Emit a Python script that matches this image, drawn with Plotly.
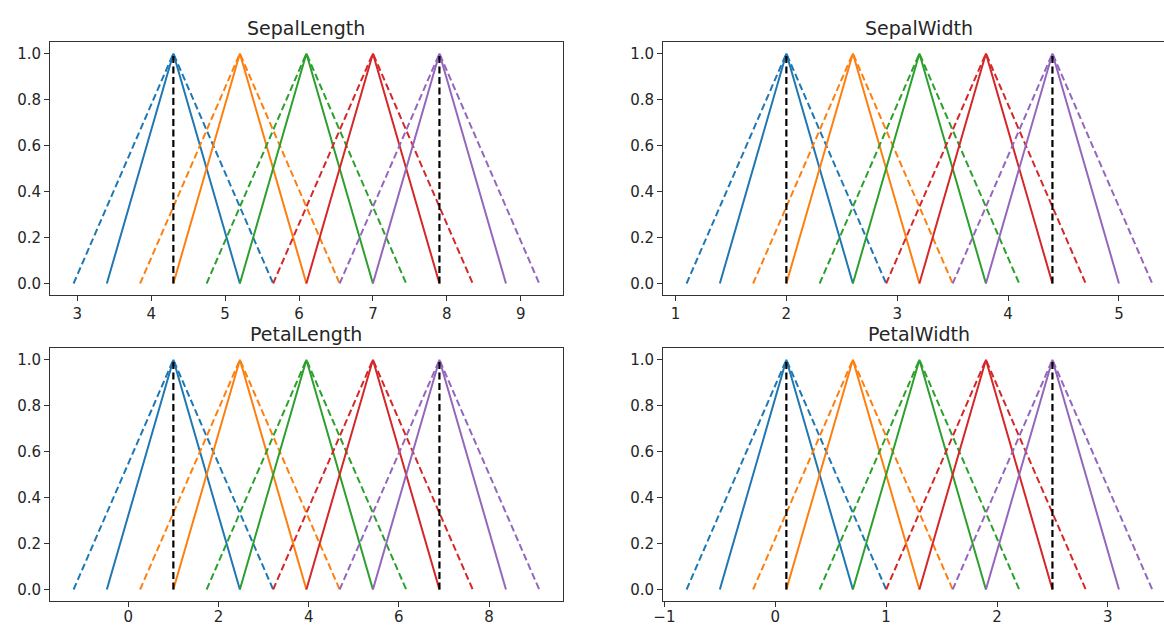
import plotly.graph_objects as go

# ---------------- data ----------------
features = ["SepalLength", "SepalWidth", "PetalLength", "PetalWidth"]

# attribute min / max (black dashed vertical lines)
feature_min = [4.3, 2.0, 1.0, 0.1]
feature_max = [7.9, 4.4, 6.9, 2.5]

# peaks of the five triangular membership functions
sl_center = [4.3, 5.2, 6.1, 7.0, 7.9]
sw_center = [2.0, 2.6, 3.2, 3.8, 4.4]
pl_center = [1.0, 2.475, 3.95, 5.425, 6.9]
pw_center = [0.1, 0.7, 1.3, 1.9, 2.5]

# feet of the solid (narrow) triangles
sl_solid_lo = [3.4, 4.3, 5.2, 6.1, 7.0]
sl_solid_hi = [5.2, 6.1, 7.0, 7.9, 8.8]
sw_solid_lo = [1.4, 2.0, 2.6, 3.2, 3.8]
sw_solid_hi = [2.6, 3.2, 3.8, 4.4, 5.0]
pl_solid_lo = [-0.475, 1.0, 2.475, 3.95, 5.425]
pl_solid_hi = [2.475, 3.95, 5.425, 6.9, 8.375]
pw_solid_lo = [-0.5, 0.1, 0.7, 1.3, 1.9]
pw_solid_hi = [0.7, 1.3, 1.9, 2.5, 3.1]

# feet of the dashed (wide) triangles
sl_dash_lo = [2.95, 3.85, 4.75, 5.65, 6.55]
sl_dash_hi = [5.65, 6.55, 7.45, 8.35, 9.25]
sw_dash_lo = [1.1, 1.7, 2.3, 2.9, 3.5]
sw_dash_hi = [2.9, 3.5, 4.1, 4.7, 5.3]
pl_dash_lo = [-1.2125, 0.2625, 1.7375, 3.2125, 4.6875]
pl_dash_hi = [3.2125, 4.6875, 6.1625, 7.6375, 9.1125]
pw_dash_lo = [-0.8, -0.2, 0.4, 1.0, 1.6]
pw_dash_hi = [1.0, 1.6, 2.2, 2.8, 3.4]

# x tick values per panel
sl_ticks = [3, 4, 5, 6, 7, 8, 9]
sw_ticks = [1, 2, 3, 4, 5]
pl_ticks = [0, 2, 4, 6, 8]
pw_ticks = [-1, 0, 1, 2, 3]
y_ticks = [0.0, 0.2, 0.4, 0.6, 0.8, 1.0]

# ---------------- styling ----------------
colors = ["#1f77b4", "#ff7f0e", "#2ca02c", "#d62728", "#9467bd"]
W, H = 1164, 628
FONT = "DejaVu Sans"
TXT = "#262626"
AX = "#333333"

panels = [
    (sl_center, sl_solid_lo, sl_solid_hi, sl_dash_lo, sl_dash_hi, sl_ticks),
    (sw_center, sw_solid_lo, sw_solid_hi, sw_dash_lo, sw_dash_hi, sw_ticks),
    (pl_center, pl_solid_lo, pl_solid_hi, pl_dash_lo, pl_dash_hi, pl_ticks),
    (pw_center, pw_solid_lo, pw_solid_hi, pw_dash_lo, pw_dash_hi, pw_ticks),
]

# axes boxes in pixels (left, right, top, bottom); right column is cut by the page edge
full_w = 512.2
boxes = [
    (50.3, 50.3 + full_w, 42.0, 295.0),
    (663.3, 663.3 + full_w, 42.0, 295.0),
    (50.3, 50.3 + full_w, 348.3, 601.0),
    (663.3, 663.3 + full_w, 348.3, 601.0),
]

fig = go.Figure()
layout = dict(
    width=W, height=H,
    margin=dict(l=0, r=0, t=0, b=0, pad=0, autoexpand=False),
    paper_bgcolor="white", plot_bgcolor="white",
    showlegend=False,
    font=dict(family=FONT, color=TXT, size=15),
)
annotations = []

for i, (name, (cen, slo, shi, dlo, dhi, xt)) in enumerate(zip(features, panels)):
    sfx = "" if i == 0 else str(i + 1)
    xa, ya = "x" + sfx, "y" + sfx
    for k in range(5):
        fig.add_trace(go.Scatter(
            x=[slo[k], cen[k], shi[k]], y=[0, 1, 0], mode="lines",
            line=dict(color=colors[k], width=2), xaxis=xa, yaxis=ya, hoverinfo="skip"))
        fig.add_trace(go.Scatter(
            x=[dlo[k], cen[k], dhi[k]], y=[0, 1, 0], mode="lines",
            line=dict(color=colors[k], width=2, dash="7px,3.5px"), xaxis=xa, yaxis=ya, hoverinfo="skip"))
    for v in (feature_min[i], feature_max[i]):
        fig.add_trace(go.Scatter(
            x=[v, v], y=[0, 1], mode="lines",
            line=dict(color="black", width=2.2, dash="7px,3.5px"), xaxis=xa, yaxis=ya, hoverinfo="skip"))

    # matplotlib-like autoscale: 5 % margin around the data
    dmin, dmax = min(dlo), max(dhi)
    span = dmax - dmin
    lo, hi = dmin - 0.05 * span, dmax + 0.05 * span
    l, r, t, b = boxes[i]
    if r > W:  # panel is cut by the right edge of the page
        hi = lo + (hi - lo) * (W - l) / (r - l)
        r = W
    right_col = (i % 2 == 1)
    bottom_row = (i >= 2)
    dom_x = [l / W, r / W]
    dom_y = [1 - b / H, 1 - t / H]
    key = "xaxis" + sfx
    ykey = "yaxis" + sfx
    layout[key] = dict(
        domain=dom_x, range=[lo, hi], anchor=ya, automargin=False,
        tickmode="array", tickvals=xt, ticktext=[("\u2212" + str(-v)) if v < 0 else str(v) for v in xt],
        ticks="outside", ticklen=5, tickwidth=1.2, tickcolor=AX,
        ticklabelstandoff=(-3 if bottom_row else 0),
        showline=True, linecolor=AX, linewidth=1.3, mirror=True,
        showgrid=False, zeroline=False, tickfont=dict(size=15, family=FONT, color=TXT),
    )
    layout[ykey] = dict(
        domain=dom_y, range=[-0.05, 1.05], anchor=xa, automargin=False,
        tickmode="array", tickvals=y_ticks, ticktext=["%.1f" % v for v in y_ticks],
        ticks="outside", ticklen=5, tickwidth=1.2, tickcolor=AX,
        showline=True, linecolor=AX, linewidth=1.3, mirror=(not right_col),
        showgrid=False, zeroline=False, tickfont=dict(size=15, family=FONT, color=TXT),
    )
    # title centred over the full (uncut) axes box
    cx = (boxes[i][0] + boxes[i][1]) / 2 / W
    annotations.append(dict(
        text=name, x=cx, y=dom_y[1], xref="paper", yref="paper",
        xanchor="center", yanchor="bottom", yshift=1, showarrow=False,
        font=dict(size=19, family=FONT, color=TXT)))

layout["annotations"] = annotations
fig.update_layout(**layout)
fig.write_html("out.html")
